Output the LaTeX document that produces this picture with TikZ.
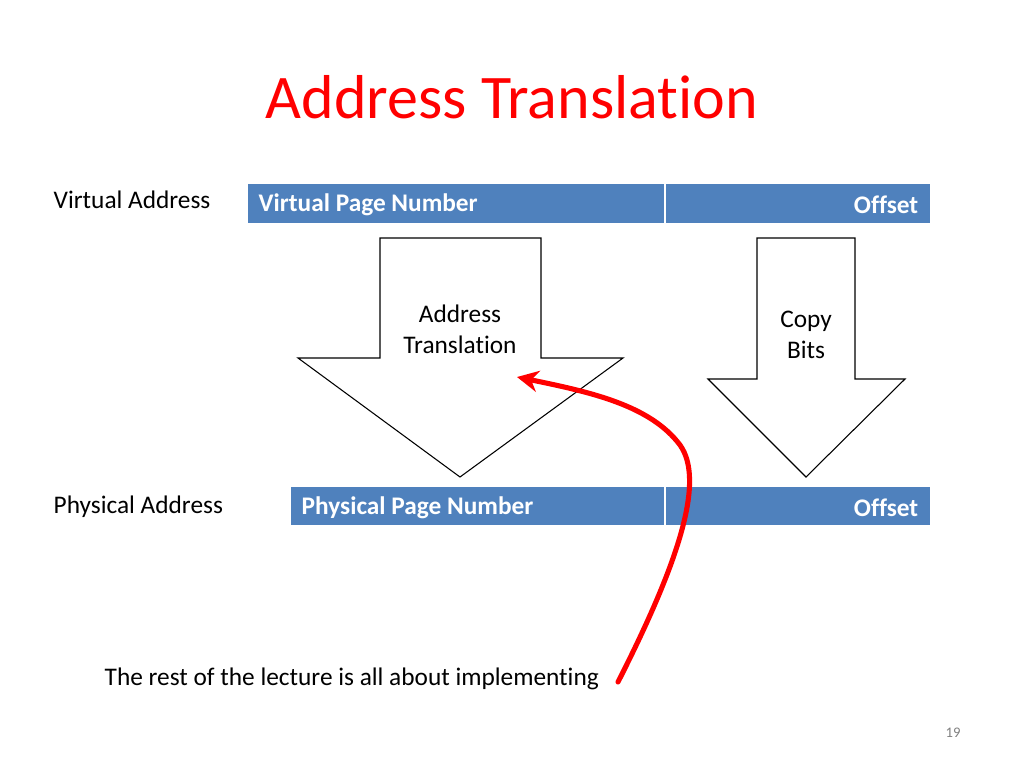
\documentclass[tikz,border=0pt]{standalone}
\usepackage{fontspec}
\setmainfont[Ligatures=NoCommon]{Carlito}
\usetikzlibrary{arrows.meta}
\definecolor{barblue}{HTML}{4F81BD}
\tikzset{
	bar/.style={fill=barblue, draw=none, inner sep=0pt},
	barlabel/.style={text=white, font=\fontsize{19}{22}\selectfont\bfseries},
	plain/.style={font=\fontsize{19}{23}\selectfont, align=center},
}
\begin{document}
\begin{tikzpicture}[x=0.75pt, y=-0.75pt]
	\useasboundingbox (0,0) rectangle (1024,768);
	
	\node (title) [text=red, font=\fontsize{46.5}{50}\selectfont] at (512,97) {Address Translation};
	
	% address bars
	\fill[barblue] (248,184) rectangle (930,223);
	\fill[barblue] (291,487) rectangle (930,525);
	\draw[white, line width=1.5pt] (665,184) -- (665,223);
	\draw[white, line width=1.5pt] (665,487) -- (665,525);
	
	\node (va) [plain, anchor=west] at (49,200) {Virtual Address};
	\node (pa) [plain, anchor=west] at (49,507) {Physical Address};
	\node (vpn) [barlabel, anchor=west] at (254,205) {Virtual Page Number};
	\node (voff) [barlabel, anchor=east] at (923,205) {Offset};
	\node (ppn) [barlabel, anchor=west] at (297,508) {Physical Page Number};
	\node (poff) [barlabel, anchor=east] at (923,508) {Offset};
	
	% block arrows
	\draw[black, line width=0.8pt, fill=white] (380,238) -- (541,238) -- (541,358) -- (623,358)
		-- (460,477) -- (298,358) -- (380,358) -- cycle;
	\draw[black, line width=0.8pt, fill=white] (757,238) -- (855,238) -- (855,379) -- (905,379)
		-- (806,477) -- (708,379) -- (757,379) -- cycle;
	\node (trans) [plain] at (460,329) {Address\\Translation};
	\node (copy) [plain] at (806,335) {Copy\\Bits};
	
	\node (rest) [plain, anchor=west] at (100,679) {The rest of the lecture is all about implementing};
	\coordinate (tail) at (618,682);
	\coordinate (tip) at (517,377);
	\draw[red, line width=3.8pt, line cap=round, -{Stealth[length=16pt, width=16pt]}]
		(tail) .. controls (680,560) and (705,480) .. (680,445)
		.. controls (650,405) and (590,392) .. (tip);
	
	\node (page) [text=gray, font=\fontsize{11}{13}\selectfont] at (953,733) {19};
\end{tikzpicture}
\end{document}
